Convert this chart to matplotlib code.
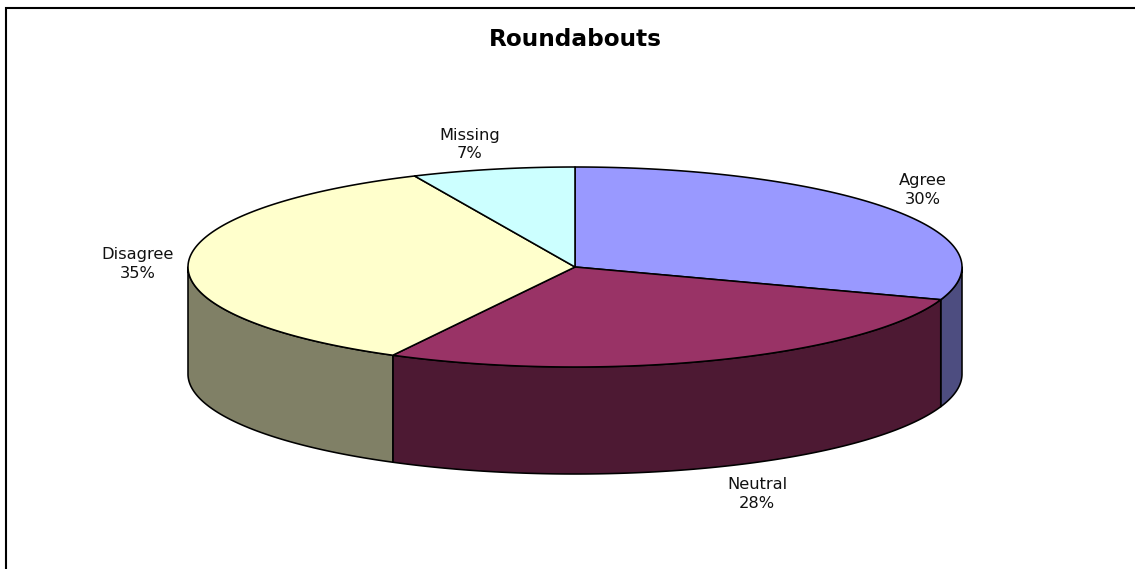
import numpy as np
import matplotlib
matplotlib.use("Agg")
import matplotlib.pyplot as plt
from matplotlib.patches import Polygon

title = "Roundabouts"
categories = ["Agree", "Neutral", "Disagree", "Missing"]
shares = [30.3, 27.5, 35.4, 6.8]
top_colors = ["#9999FF", "#993366", "#FFFFCC", "#CCFFFF"]
side_colors = ["#4D4D80", "#4D1933", "#808066", "#668080"]
label_centers = [(923, 190), (757, 494), (138, 264), (470, 144.5)]

W, H = 1135, 569
CX, CY, RX, RY, DEPTH = 575, 267, 387, 100, 107
LW = 1.15

fig = plt.figure(figsize=(W / 100, H / 100), dpi=100, facecolor="white")
ax = fig.add_axes([0, 0, 1, 1])
ax.set_xlim(0, W)
ax.set_ylim(H, 0)
ax.axis("off")


def rim(t0, t1, dy=0.0):
    t = np.radians(np.linspace(t0, t1, max(int(abs(t1 - t0) * 4), 2)))
    return np.column_stack([CX + RX * np.sin(t), CY + dy - RY * np.cos(t)])


edges = np.concatenate([[0], np.cumsum(shares)]) * 360.0 / sum(shares)

# side walls (front half of the ellipse only)
for a0, a1, col in zip(edges[:-1], edges[1:], side_colors):
    lo, hi = max(a0, 90), min(a1, 270)
    if hi <= lo:
        continue
    pts = np.vstack([rim(lo, hi), rim(lo, hi, DEPTH)[::-1]])
    ax.add_patch(Polygon(pts, closed=True, facecolor=col, edgecolor="black",
                         linewidth=LW, joinstyle="round"))

# top faces
for a0, a1, col in zip(edges[:-1], edges[1:], top_colors):
    pts = np.vstack([[(CX, CY)], rim(a0, a1)])
    ax.add_patch(Polygon(pts, closed=True, facecolor=col, edgecolor="black",
                         linewidth=LW, joinstyle="round"))

# chart frame: only the top and left edges show
ax.plot([6, 6, W], [H, 8, 8], color="black", linewidth=1.5,
        solid_joinstyle="miter", solid_capstyle="butt")

ax.text(575, 39, title, ha="center", va="center", fontsize=16.7,
        fontweight="bold", family="DejaVu Sans", color="black")

for name, share, (x, y) in zip(categories, shares, label_centers):
    ax.text(x, y, f"{name}\n{share:.0f}%", ha="center", va="center",
            fontsize=11.7, family="DejaVu Sans", color="#111111",
            linespacing=1.3)

fig.savefig("out.png", dpi=100, facecolor="white")
